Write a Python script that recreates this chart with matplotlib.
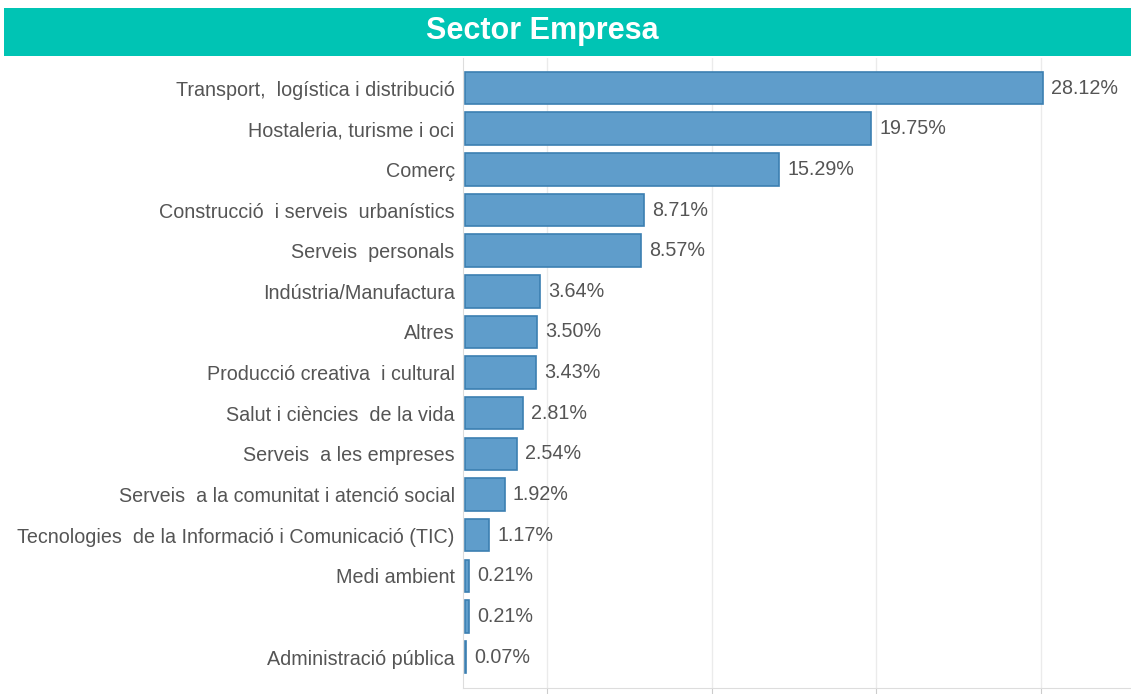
import matplotlib.pyplot as plt
from matplotlib.patches import Rectangle

# Data
sectors = ['Transport,  logística i distribució', 'Hostaleria, turisme i oci', 'Comerç',
           'Construcció  i serveis  urbanístics', 'Serveis  personals', 'Indústria/Manufactura',
           'Altres', 'Producció creativa  i cultural', 'Salut i ciències  de la vida',
           'Serveis  a les empreses', 'Serveis  a la comunitat i atenció social',
           'Tecnologies  de la Informació i Comunicació (TIC)', 'Medi ambient', '',
           'Administració pública']
values = [28.12, 19.75, 15.29, 8.71, 8.57, 3.64, 3.50, 3.43, 2.81, 2.54, 1.92, 1.17, 0.21, 0.21, 0.07]
grid_ticks = [4, 12, 20, 28]

plt.rcParams['font.family'] = ['Liberation Sans', 'DejaVu Sans']

W, H = 1131, 694
fig = plt.figure(figsize=(W / 100, H / 100), dpi=100)

# Title band
fig.patches.append(Rectangle((4 / W, 1 - 56 / H), 1, 48 / H, transform=fig.transFigure,
                             facecolor='#00C4B4', edgecolor='none'))
fig.text(542 / W, 1 - 31 / H, 'Sector Empresa', color='white', fontsize=22, fontweight='bold',
         ha='center', va='center')

ax = fig.add_axes([463 / W, 1 - 688 / H, (W - 463) / W, (688 - 58) / H])
y = list(range(len(values)))
ax.barh(y, values, height=0.8, color='#5F9DCB', edgecolor='#3C7FB1', linewidth=1.2)

for yi, v in zip(y, values):
    ax.text(v + 0.4, yi, f'{v:.2f}%', va='center', ha='left', fontsize=14.2, color='#555555')

ax.set_yticks(y)
ax.set_yticklabels(sectors, fontsize=14.2, color='#555555')
ax.tick_params(axis='y', length=0, pad=6)
ax.set_xticks(grid_ticks)
ax.set_xticklabels([])
ax.tick_params(axis='x', length=5, color='#CCCCCC', direction='out')
ax.set_xlim(-0.1, 32.4)
ax.set_ylim(14.76, -0.74)
ax.grid(axis='x', color='#EBEBEB', linewidth=1)
ax.set_axisbelow(True)
for s in ['top', 'right']:
    ax.spines[s].set_visible(False)
ax.spines['left'].set_color('#DDDDDD')
ax.spines['bottom'].set_color('#DDDDDD')

fig.savefig('out.png', dpi=100)
